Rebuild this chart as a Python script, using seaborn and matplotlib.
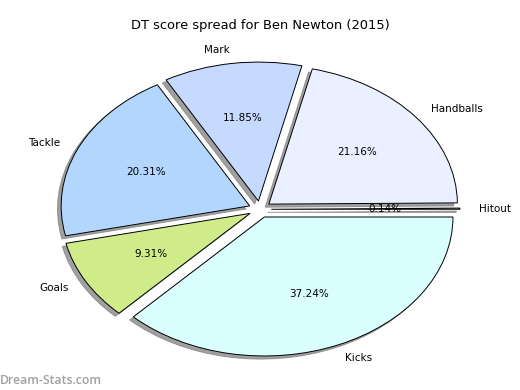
"""
DT score spread pie chart
"""

import matplotlib
matplotlib.use('Agg')
import matplotlib.pyplot as plt
import seaborn as sns

# Share of DT score per stat (percent)
categories = ['Hitout', 'Handballs', 'Mark', 'Tackle', 'Goals', 'Kicks']
shares = [0.14, 21.16, 11.85, 20.31, 9.31, 37.24]
colors = ['#ffffff', '#eaf0ff', '#c6d9ff', '#b3d6ff', '#cfeb8a', '#d9ffff']

sns.set_style('white')
plt.rcParams['font.family'] = ['DejaVu Sans']

fig = plt.figure(figsize=(5.2, 3.9), dpi=100)
ax = fig.add_axes([0, 0, 1, 1])

ax.pie(shares, labels=categories, colors=colors,
       explode=[0.06] * len(shares), autopct='%1.2f%%',
       shadow={'ox': -0.014, 'oy': -0.016, 'facecolor': '#808080',
               'edgecolor': '#808080', 'alpha': 0.75},
       startangle=0, counterclock=True,
       wedgeprops={'edgecolor': 'black', 'linewidth': 0.7},
       textprops={'fontsize': 7.5, 'color': 'black'})

# stretch into an ellipse like the original
ax.set_aspect('auto')
ax.set_xlim(-1.379, 1.379)
ax.set_ylim(-1.300, 1.506)
ax.set_axis_off()

fig.text(0.5, 0.935, 'DT score spread for Ben Newton (2015)',
         ha='center', va='center', fontsize=9.4, color='black')
fig.text(0.0, 0.025, 'Dream-Stats.com', ha='left', va='center',
         fontsize=8.8, color='#a0a0a0', fontweight='semibold', family='Open Sans')

fig.savefig('out.png', dpi=100)
plt.close()
